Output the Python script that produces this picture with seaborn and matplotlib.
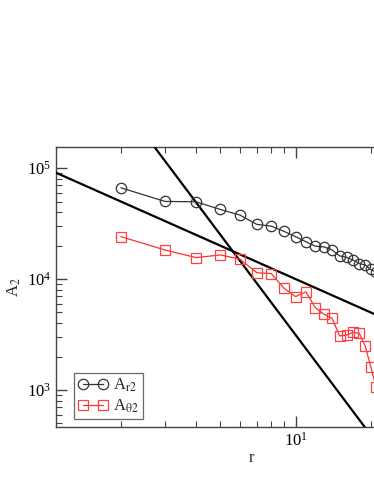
import numpy as np
import pandas as pd
import matplotlib
matplotlib.use("Agg")
import matplotlib.pyplot as plt
import seaborn as sns

# ---- data ----
r_vals = [2, 3, 4, 5, 6, 7, 8, 9, 10, 11, 12, 13, 14, 15, 16, 17, 18, 19, 20, 21]
A_r2 = [66500, 50100, 49700, 42400, 37700, 31100, 30000, 26900, 24100, 21700,
        19800, 19500, 18300, 16200, 15700, 14800, 13800, 13400, 12200, 11500]
A_theta2 = [24100, 18300, 15600, 16500, 15100, 11400, 11200, 8240, 6950, 7670,
            5530, 4810, 4430, 3080, 3130, 3310, 3240, 2490, 1620, 1060]

# reference power laws: A = amp * r**exponent
law_amp = [1.0e5, 3.14e6]
law_exp = [-1.0, -3.0]
law_r = [1.0, 50.0]

x_limits = [1.1, 40.0]
y_limits = [464.0, 1.55e5]

sns.set_style("ticks")
plt.rcParams["font.family"] = ["Liberation Serif", "DejaVu Serif"]
plt.rcParams["mathtext.fontset"] = "stix"
plt.rcParams["xtick.direction"] = "in"
plt.rcParams["ytick.direction"] = "in"

W, H = 374, 484
fig = plt.figure(figsize=(W / 100, H / 100), dpi=100)
ax_w = 446 - 56
ax = fig.add_axes([56 / W, (H - 427) / H, ax_w / W, (427 - 147) / H])

df = pd.DataFrame({"r": r_vals, "Ar2": A_r2, "At2": A_theta2})

for amp, ex in zip(law_amp, law_exp):
    lr = np.array(law_r)
    ldf = pd.DataFrame({"r": lr, "A": amp * lr ** ex})
    sns.lineplot(data=ldf, x="r", y="A", ax=ax, color="black", linewidth=1.6,
                 legend=False, zorder=3)

sns.lineplot(data=df, x="r", y="Ar2", ax=ax, color="#333333", linewidth=0.9,
             marker="o", markersize=7.5, markerfacecolor="none",
             markeredgecolor="#333333", markeredgewidth=0.9,
             label=r"A$_{\mathrm{r2}}$", zorder=4)
sns.lineplot(data=df, x="r", y="At2", ax=ax, color="#ff3030", linewidth=0.9,
             marker="s", markersize=6.5, markerfacecolor="none",
             markeredgecolor="#ff4040", markeredgewidth=0.9,
             label=r"A$_{\mathrm{\theta 2}}$", zorder=4)

ax.set_xscale("log")
ax.set_yscale("log")
ax.set_xlim(*x_limits)
ax.set_ylim(*y_limits)

for s in ax.spines.values():
    s.set_color("#444444")
    s.set_linewidth(1.0)
ax.tick_params(which="both", top=True, right=True, colors="#444444",
               labelcolor="black", labelsize=12)
ax.tick_params(which="major", length=8, width=1.0)
ax.tick_params(which="minor", length=4, width=0.8)

ax.set_xlabel("r", fontsize=12, labelpad=0)
ax.set_ylabel(r"A$_2$", fontsize=12, labelpad=3)

leg = ax.legend(loc="lower left",
                bbox_to_anchor=((74 - 56) / ax_w, (427 - 419) / (427 - 147)),
                numpoints=2, fontsize=12, frameon=True, fancybox=False,
                handlelength=1.8, handletextpad=0.3, borderpad=0.25,
                labelspacing=0.2, borderaxespad=0.0)
leg.get_frame().set_edgecolor("#444444")
leg.get_frame().set_linewidth(0.9)

fig.savefig("out.png", dpi=100)
